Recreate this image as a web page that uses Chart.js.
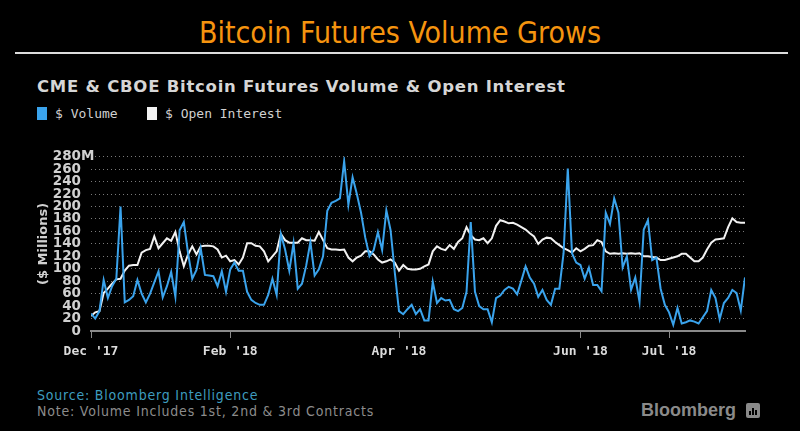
<!DOCTYPE html>
<html>
<head>
<meta charset="utf-8">
<script src="https://cdn.jsdelivr.net/npm/chart.js@4.4.0/dist/chart.umd.min.js"></script>
<style>
  html, body { margin: 0; padding: 0; background: #000; }
  body { width: 800px; height: 431px; position: relative; overflow: hidden; font-family: 'DejaVu Sans', sans-serif; }
  #title { position: absolute; left: 0; top: 17px; width: 800px; text-align: center; line-height: 32px;
           color: #f5940f; font-family: 'DejaVu Sans Condensed', 'DejaVu Sans', sans-serif; font-size: 30px; }
  #rule { position: absolute; left: 15px; top: 52px; width: 773px; height: 2px; background: #dcdcdc; }
  #subtitle { position: absolute; left: 37px; top: 77px; line-height: 20px; color: #d6d6d6; letter-spacing: 0.75px;
              font-family: 'DejaVu Sans', sans-serif; font-weight: bold; font-size: 16.5px; }
  #legend { position: absolute; left: 37px; top: 107px; height: 13px; }
  .item { position: absolute; top: 0; height: 13px; line-height: 13px; white-space: nowrap;
          font-family: 'DejaVu Sans Mono', monospace; font-size: 13px; color: #d0d0d0; }
  .box { position: absolute; left: 0; top: 0; width: 10px; height: 13px; }
  .item span.t { position: absolute; left: 18px; top: 0; }
  #wrap { position: absolute; left: 0; top: 140px; width: 800px; height: 230px; }
  .foot { position: absolute; left: 37px; font-family: 'DejaVu Sans Condensed', 'DejaVu Sans', sans-serif;
          font-size: 14px; letter-spacing: 0.8px; line-height: 16px; white-space: nowrap; }
  #source { top: 387px; color: #3e9cbf; }
  #note { top: 403px; color: #8c8c8c; }
  #logo { position: absolute; left: 641px; top: 399px; font-family: 'Liberation Sans', Arial, sans-serif;
          font-weight: bold; font-size: 18px; line-height: 22px; color: #8a8a8a; }
  #icon { position: absolute; left: 746px; top: 403px; width: 14px; height: 15px; background: #8a8a8a; border-radius: 2px; }
  #icon i { position: absolute; bottom: 3px; width: 2px; background: #000; }
</style>
</head>
<body>
<div id="title">Bitcoin Futures Volume Grows</div>
<div id="rule"></div>
<div id="subtitle">CME &amp; CBOE Bitcoin Futures Volume &amp; Open Interest</div>
<div id="legend"></div>
<div id="wrap"><canvas id="myChart"></canvas></div>
<div id="source" class="foot">Source: Bloomberg Intelligence</div>
<div id="note" class="foot">Note: Volume Includes 1st, 2nd &amp; 3rd Contracts</div>
<div id="logo">Bloomberg</div>
<div id="icon"><i style="left:3px;height:4px"></i><i style="left:6px;height:7px"></i><i style="left:9px;height:5px"></i></div>
<script>
// daily values, $ millions (one per trading day)
const volume = [
  28, 20, 32, 82, 53, 72, 84, 200, 46, 50,
  56, 82, 60, 46, 60, 78, 96, 54, 72, 95,
  55, 162, 175, 125, 84, 98, 133, 90, 89, 88,
  72, 96, 63, 99, 110, 97, 97, 63, 50, 45,
  42, 42, 58, 84, 58, 156, 131, 97, 141, 68,
  76, 105, 143, 89, 99, 120, 193, 206, 209, 213,
  273, 203, 247, 220, 190, 150, 120, 130, 159, 130,
  194, 162, 94, 32, 27, 35, 42, 27, 35, 17,
  17, 79, 45, 53, 49, 50, 35, 32, 37, 63,
  175, 63, 40, 35, 35, 14, 53, 57, 66, 71,
  68, 59, 81, 104, 86, 76, 55, 66, 50, 42,
  68, 68, 125, 261, 125, 110, 106, 84, 102, 74,
  74, 64, 190, 172, 213, 190, 102, 120, 66, 86,
  47, 163, 178, 114, 118, 68, 42, 30, 10, 37,
  12, 14, 17, 15, 12, 22, 32, 66, 53, 19,
  45, 53, 66, 61, 33, 86
];
const openInterest = [
  24, 30, 32, 61, 68, 76, 83, 84, 97, 105,
  106, 106, 126, 130, 132, 152, 133, 141, 149, 145,
  159, 128, 104, 123, 136, 123, 136, 137, 137, 136,
  131, 118, 121, 112, 114, 107, 118, 141, 141, 137,
  136, 128, 112, 120, 128, 156, 146, 142, 142, 142,
  149, 146, 146, 145, 159, 146, 133, 131, 131, 130,
  131, 118, 112, 118, 121, 128, 128, 123, 115, 110,
  112, 115, 110, 97, 106, 100, 99, 99, 100, 104,
  107, 128, 136, 132, 130, 138, 132, 143, 149, 167,
  154, 147, 146, 149, 141, 149, 169, 178, 176, 173,
  174, 171, 167, 163, 157, 152, 140, 147, 150, 149,
  143, 138, 133, 130, 126, 133, 128, 132, 137, 138,
  146, 143, 128, 124, 125, 124, 125, 124, 125, 124,
  125, 120, 120, 119, 118, 114, 114, 116, 118, 120,
  124, 124, 118, 112, 112, 118, 131, 142, 147, 148,
  149, 167, 181, 175, 174, 174
];
const tickIndex = [0, 33, 73, 116, 137];
const tickLabels = ["Dec '17", "Feb '18", "Apr '18", "Jun '18", "Jul '18"];
const seriesNames = ['$ Volume', '$ Open Interest'];
const seriesColors = ['#3aa3ec', '#f2f2f2'];

// legend
const legend = document.getElementById('legend');
const legendX = [0, 110];
seriesNames.forEach((name, i) => {
    const it = document.createElement('div');
    it.className = 'item';
    it.style.left = legendX[i] + 'px';
    it.innerHTML = '<div class="box" style="background:' + seriesColors[i] + '"></div><span class="t">' + name + '</span>';
    legend.appendChild(it);
});

const toPoints = (arr) => arr.map((v, i) => ({ x: i, y: v }));

// draws the "M" after the top y tick, like the original
const unitSuffix = {
    id: 'unitSuffix',
    afterDraw(chart) {
        const y = chart.scales.y;
        const ctx = chart.ctx;
        ctx.save();
        ctx.font = 'bold 13.5px "DejaVu Sans"';
        ctx.fillStyle = '#d0d0d0';
        ctx.textAlign = 'left';
        ctx.textBaseline = 'middle';
        ctx.fillText('M', y.right - 10, y.getPixelForValue(280));
        ctx.restore();
    }
};

const ctx = document.getElementById('myChart').getContext('2d');
const chart = new Chart(ctx, {
    type: 'line',
    data: {
        datasets: [
            {
                label: seriesNames[0],
                data: toPoints(volume),
                borderColor: seriesColors[0],
                borderWidth: 2,
                pointRadius: 0,
                tension: 0,
            },
            {
                label: seriesNames[1],
                data: toPoints(openInterest),
                borderColor: seriesColors[1],
                borderWidth: 2,
                pointRadius: 0,
                tension: 0,
            },
        ],
    },
    options: {
        responsive: true,
        maintainAspectRatio: false,
        animation: false,
        layout: { padding: { left: 0, right: 55, top: 11, bottom: 0 } },
        plugins: {
            legend: { display: false },
            tooltip: { enabled: false },
        },
        scales: {
            x: {
                type: 'linear',
                min: 0,
                max: volume.length - 1,
                afterBuildTicks: (s) => { s.ticks = tickIndex.map((v) => ({ value: v })); },
                afterFit: (s) => { s.height = 39; },
                ticks: {
                    autoSkip: false,
                    maxRotation: 0,
                    padding: 6,
                    color: '#dcdcdc',
                    font: { family: 'DejaVu Sans Mono', weight: 'bold', size: 13 },
                    callback: (v) => tickLabels[tickIndex.indexOf(v)] || '',
                },
                grid: { drawOnChartArea: false, tickLength: 7, color: '#8a8a8a' },
                border: { color: '#8a8a8a', width: 2 },
            },
            y: {
                min: 0,
                max: 280,
                afterFit: (s) => { s.width = 91; },
                ticks: {
                    stepSize: 20,
                    autoSkip: false,
                    padding: 10,
                    color: '#d0d0d0',
                    font: { family: 'DejaVu Sans', weight: 'bold', size: 13.5, lineHeight: 1 },
                },
                grid: { color: '#7a7a7a', drawTicks: false, lineWidth: 1 },
                border: { display: false, dash: [1, 3] },
                title: {
                    display: true,
                    text: '($ Millions)',
                    color: '#d0d0d0',
                    font: { family: 'DejaVu Sans', weight: 'bold', size: 13 },
                    padding: { top: 36, bottom: 0 },
                },
            },
        },
    },
    plugins: [unitSuffix],
});
</script>
</body>
</html>
